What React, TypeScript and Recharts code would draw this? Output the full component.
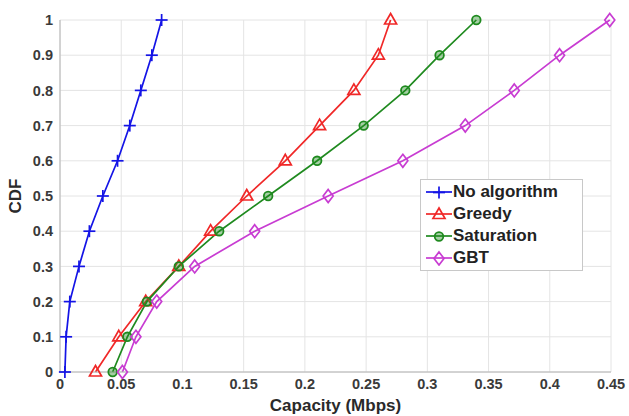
import React from "react";
import { CartesianGrid, Line, LineChart, XAxis, YAxis } from "recharts";

const capacityTicks = [0, 0.05, 0.1, 0.15, 0.2, 0.25, 0.3, 0.35, 0.4, 0.45];
const cdfTicks = [0, 0.1, 0.2, 0.3, 0.4, 0.5, 0.6, 0.7, 0.8, 0.9, 1];

// CDF levels shared by all curves
const cdfLevels = [0, 0.1, 0.2, 0.3, 0.4, 0.5, 0.6, 0.7, 0.8, 0.9, 1];

// capacity (Mbps) at each level
const noAlgorithm = [0.004, 0.005, 0.008, 0.0155, 0.024, 0.035, 0.047, 0.057, 0.066, 0.075, 0.083];
const greedy = [0.029, 0.048, 0.07, 0.097, 0.123, 0.1525, 0.184, 0.212, 0.24, 0.26, 0.27];
const saturation = [0.043, 0.055, 0.071, 0.097, 0.13, 0.17, 0.21, 0.248, 0.282, 0.31, 0.34];
const gbt = [0.051, 0.062, 0.079, 0.11, 0.159, 0.219, 0.28, 0.331, 0.371, 0.408, 0.449];

const FONT = "'Liberation Sans', Arial, Helvetica, sans-serif";

type Shape = "plus" | "triangle" | "circle" | "diamond";

const series: { name: string; values: number[]; color: string; shape: Shape }[] = [
  { name: "No algorithm", values: noAlgorithm, color: "#1414e6", shape: "plus" },
  { name: "Greedy", values: greedy, color: "#f02828", shape: "triangle" },
  { name: "Saturation", values: saturation, color: "#1f8a1f", shape: "circle" },
  { name: "GBT", values: gbt, color: "#c83cd2", shape: "diamond" },
];

function Marker({ cx, cy, color, shape }: { cx: number; cy: number; color: string; shape: Shape }) {
  if (cx == null || cy == null) return null;
  if (shape === "plus") {
    return (
      <g stroke={color} strokeWidth={1.7}>
        <line x1={cx - 6} y1={cy} x2={cx + 6} y2={cy} />
        <line x1={cx} y1={cy - 6} x2={cx} y2={cy + 6} />
      </g>
    );
  }
  if (shape === "triangle") {
    return (
      <path
        d={`M${cx},${cy - 6.5} L${cx + 6},${cy + 4} L${cx - 6},${cy + 4} Z`}
        fill="none"
        stroke={color}
        strokeWidth={1.7}
      />
    );
  }
  if (shape === "circle") {
    return <circle cx={cx} cy={cy} r={4.3} fill="rgba(31,138,31,0.4)" stroke={color} strokeWidth={1.8} />;
  }
  return (
    <path
      d={`M${cx},${cy - 6.5} L${cx + 5},${cy} L${cx},${cy + 6.5} L${cx - 5},${cy} Z`}
      fill="none"
      stroke={color}
      strokeWidth={1.7}
    />
  );
}

function LegendBox() {
  return (
    <div
      style={{
        position: "absolute",
        left: 420,
        top: 179,
        width: 163,
        boxSizing: "border-box",
        border: "1px solid #c8c8c8",
        background: "#fff",
        padding: "1px 4px",
        fontFamily: FONT,
        fontWeight: "bold",
        fontSize: 17,
        color: "#222",
        lineHeight: "22px",
      }}
    >
      {series.map((s) => (
        <div key={s.name} style={{ display: "flex", alignItems: "center", height: 22 }}>
          <svg width={28} height={16} style={{ marginRight: 0 }}>
            <line x1={1} y1={8} x2={27} y2={8} stroke={s.color} strokeWidth={1.7} />
            <Marker cx={14} cy={8.5} color={s.color} shape={s.shape} />
          </svg>
          <span>{s.name}</span>
        </div>
      ))}
    </div>
  );
}

export default function App() {
  const tickStyle = { fontSize: 14.5, fontWeight: "bold", fill: "#3a3a3a", fontFamily: FONT };
  return (
    <div style={{ position: "absolute", left: 0, top: 0, width: 629, height: 416, background: "#fff" }}>
      <LineChart width={629} height={416} margin={{ top: 20, right: 18, bottom: 0, left: 0 }}>
        <CartesianGrid stroke="#e4e4e4" />
        <XAxis
          type="number"
          dataKey="x"
          domain={[0, 0.45]}
          ticks={capacityTicks}
          height={44}
          tick={tickStyle}
          tickLine={false}
          axisLine={{ stroke: "#b4b4b4" }}
          tickMargin={1}
          label={{
            value: "Capacity (Mbps)",
            position: "insideBottom",
            offset: 5,
            style: { fontSize: 17, fontWeight: "bold", fill: "#2a2a2a", fontFamily: FONT },
          }}
        />
        <YAxis
          type="number"
          dataKey="y"
          domain={[0, 1]}
          ticks={cdfTicks}
          width={60}
          tick={tickStyle}
          tickLine={false}
          axisLine={{ stroke: "#b4b4b4" }}
          tickMargin={1}
          label={{
            value: "CDF",
            angle: -90,
            position: "insideLeft",
            offset: 15,
            style: { fontSize: 17, fontWeight: "bold", fill: "#2a2a2a", fontFamily: FONT, textAnchor: "middle" },
          }}
        />
        {series.map((s) => (
          <Line
            key={s.name}
            name={s.name}
            data={s.values.map((x, i) => ({ x, y: cdfLevels[i] }))}
            dataKey="y"
            stroke={s.color}
            strokeWidth={1.7}
            isAnimationActive={false}
            dot={(p: any) => <Marker key={`${s.name}-${p.index}`} cx={p.cx} cy={p.cy} color={s.color} shape={s.shape} />}
            activeDot={false}
          />
        ))}
      </LineChart>
      <LegendBox />
    </div>
  );
}
